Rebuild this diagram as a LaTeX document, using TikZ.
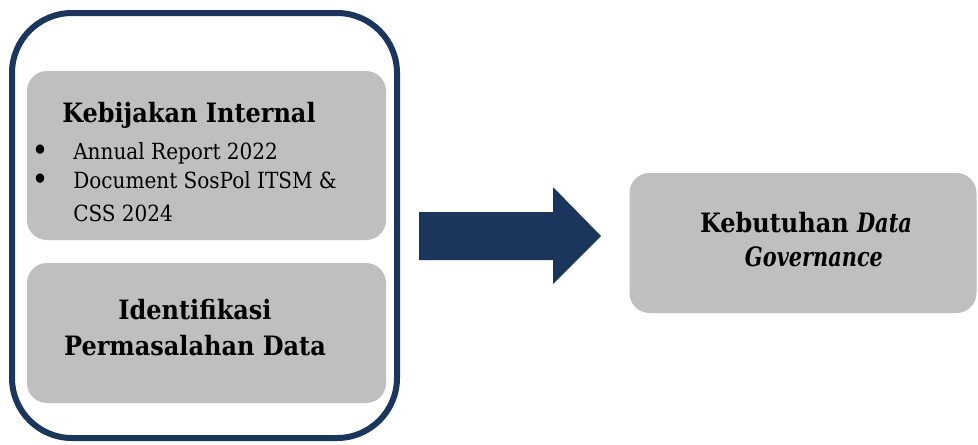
\documentclass[tikz,border=0pt]{standalone}
\usepackage{fontspec}
\setmainfont{DejaVu Serif Condensed}
\newfontfamily\narrowserif{DejaVu Serif Condensed}[FakeStretch=0.87]
\definecolor{navy}{RGB}{27,54,93}
\definecolor{panel}{RGB}{191,191,191}
\tikzset{
  frame/.style={draw=navy, line width=4.5pt, rounded corners=45pt, fill=white},
  panelbox/.style={fill=panel, draw=none, rounded corners=15pt},
  headtext/.style={inner sep=0pt, font=\fontsize{20}{24}\selectfont\bfseries},
  bodytext/.style={inner sep=0pt, font=\fontsize{16.7}{20}\selectfont},
  bulletmark/.style={inner sep=0pt, font=\fontsize{24}{28}\selectfont},
  blockarrow/.style={fill=navy, draw=none}
}
\newcommand{\slanted}[1]{{\narrowserif\itshape #1}}
\begin{document}
\begin{tikzpicture}[x=0.75pt, y=-0.75pt]
  \useasboundingbox (0,0) rectangle (978,444);

  % outer frame holding the two input panels
  \node[frame, minimum width=385*0.75pt, minimum height=425*0.75pt] (outer) at (204.5,225.5) {};

  % input panels
  \node[panelbox, minimum width=359*0.75pt, minimum height=169*0.75pt] (policy) at (206.5,155.5) {};
  \node[panelbox, minimum width=359*0.75pt, minimum height=140*0.75pt] (issues) at (206.5,333) {};

  % result panel
  \node[panelbox, minimum width=347*0.75pt, minimum height=140*0.75pt] (needs) at (803,243) {};

  % texts of the policy panel
  \node[headtext, anchor=base west] (policytitle) at (62,122) {Kebijakan Internal};
  \node[bulletmark] (bulletA) at (40,153) {•};
  \node[bodytext, anchor=base west] (itemA) at (73,159) {Annual Report 2022};
  \node[bulletmark] (bulletB) at (40,182) {•};
  \node[bodytext, anchor=base west] (itemB) at (73,188) {Document SosPol ITSM \&};
  \node[bodytext, anchor=base west] (itemBcont) at (73,221) {CSS 2024};

  % texts of the issues panel
  \node[headtext, anchor=base] (issuesA) at (195,319) {Identifikasi};
  \node[headtext, anchor=base] (issuesB) at (195,355) {Permasalahan Data};

  % texts of the result panel
  \node[headtext, anchor=base] (needsA) at (806,232) {Kebutuhan \slanted{Data}};
  \node[headtext, anchor=base] (needsB) at (814,266) {\slanted{Governance}};

  % block arrow from the inputs to the result
  \coordinate (arrowtail) at (419,236);
  \coordinate (arrowtip) at (601,236);
  \fill[blockarrow] (419,212) -- (553,212) -- (553,187) -- (arrowtip)
    -- (553,284) -- (553,260) -- (419,260) -- cycle;
\end{tikzpicture}
\end{document}
